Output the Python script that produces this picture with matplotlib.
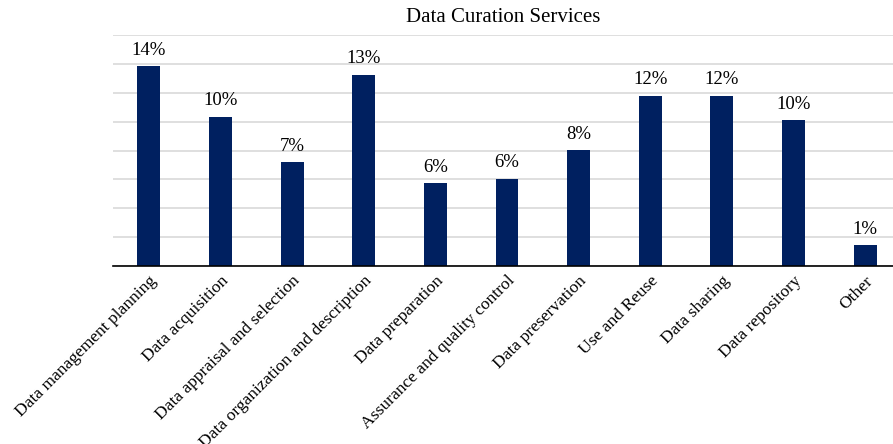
import matplotlib
matplotlib.use("Agg")
import matplotlib.pyplot as plt
import numpy as np

categories = [
    "Data management planning",
    "Data acquisition",
    "Data appraisal and selection",
    "Data organization and description",
    "Data preparation",
    "Assurance and quality control",
    "Data preservation",
    "Use and Reuse",
    "Data sharing",
    "Data repository",
    "Other",
]
shares = [13.85, 10.35, 7.2, 13.25, 5.75, 6.05, 8.05, 11.8, 11.8, 10.1, 1.45]

plt.rcParams["font.family"] = ["Liberation Serif", "DejaVu Serif"]

fig = plt.figure(figsize=(8.93, 4.44), dpi=100)
# plot area runs a little past the right edge of the figure
ax = fig.add_axes([113 / 893, (444 - 266) / 444, (901 - 113) / 893, (266 - 35) / 444])

x = np.arange(len(categories))
bars = ax.bar(x, shares, width=0.32, color="#002060", zorder=3)

for rect, v in zip(bars, shares):
    ax.text(rect.get_x() + rect.get_width() / 2, v + 0.5, f"{v:.0f}%",
            ha="center", va="bottom", fontsize=13.5)

ax.set_xlim(-0.5, len(categories) - 0.5)
ax.set_ylim(0, 16)
ax.set_yticks(np.arange(0, 17, 2))
ax.yaxis.grid(True, color="#d9d9d9", linewidth=1.2, zorder=0)
ax.tick_params(axis="y", left=False, labelleft=False)
ax.tick_params(axis="x", length=0, pad=5)

ax.set_xticks(x)
ax.set_xticklabels(categories, rotation=45, ha="right", rotation_mode="anchor",
                   fontsize=12.6)

for side in ["left", "right", "top"]:
    ax.spines[side].set_visible(False)
ax.spines["bottom"].set_color("#000000")
ax.spines["bottom"].set_linewidth(1.2)
ax.spines["bottom"].set_zorder(4)

fig.text(503 / 893, 1 - 18 / 444, "Data Curation Services", ha="center", va="center",
         fontsize=15)

fig.savefig("out.png", dpi=100)
